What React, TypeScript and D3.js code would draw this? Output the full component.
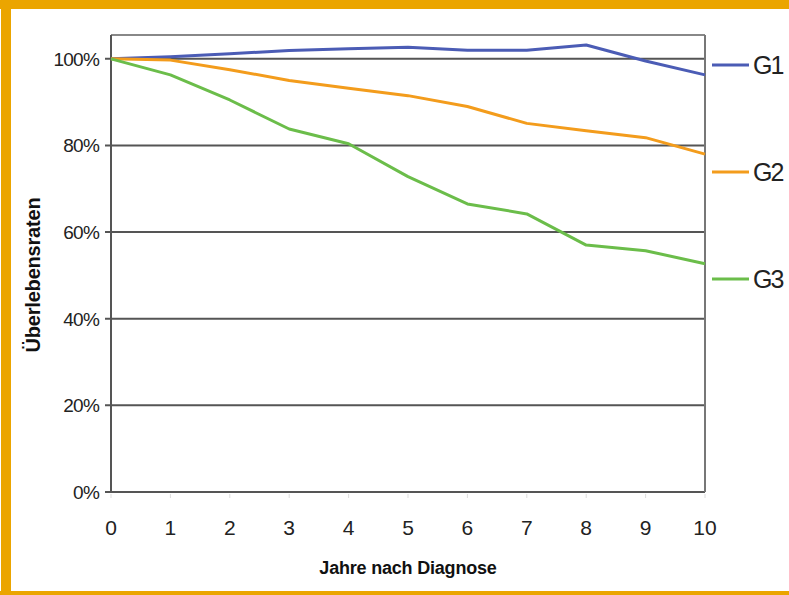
import React from "react";
import * as d3 from "d3";

const years = [0, 1, 2, 3, 4, 5, 6, 7, 8, 9, 10];
const g1 = [100, 100.5, 101.2, 101.9, 102.3, 102.7, 102, 102, 103.2, 99.5, 96.3];
const g2 = [100, 99.7, 97.5, 95, 93.2, 91.5, 89, 85.1, 83.4, 81.8, 78];
const g3 = [100, 96.3, 90.5, 83.8, 80.4, 72.8, 66.5, 64.2, 57, 55.7, 52.7];
const yTicks = [0, 20, 40, 60, 80, 100];
const seriesNames = ["G1", "G2", "G3"];
const seriesColors = ["#4b5cb5", "#f39c1c", "#6bbd4a"];
const xTitle = "Jahre nach Diagnose";
const yTitle = "Überlebensraten";

export default function App() {
  const W = 789, H = 595;
  const left = 111, right = 705, top = 35, bottom = 492;
  const x = d3.scaleLinear().domain([0, 10]).range([left, right]);
  const y = d3.scaleLinear().domain([0, 105.5]).range([bottom, top]);
  const line = d3.line<number>().x((_, i) => x(years[i])).y((v) => y(v));
  const data = [g1, g2, g3];
  const legendY = [65, 172, 279];
  const font = "Liberation Sans, Arial, sans-serif";
  return (
    <svg width={W} height={H} style={{ position: "absolute", left: 0, top: 0, background: "#fff" }}>
      {/* orange frame */}
      <rect x={0} y={0} width={W} height={9} fill="#eba500" />
      <rect x={1} y={0} width={10} height={H} fill="#eba500" />
      <rect x={0} y={591} width={W} height={4} fill="#eba500" />
      {/* gridlines */}
      {yTicks.map((t) => (
        <line key={t} x1={left - 6} x2={right} y1={y(t)} y2={y(t)} stroke="#555" strokeWidth={2} />
      ))}
      {/* plot frame */}
      <line x1={left} x2={right} y1={top} y2={top} stroke="#888" strokeWidth={2} />
      <line x1={right} x2={right} y1={top} y2={bottom} stroke="#777" strokeWidth={2} />
      <line x1={left} x2={left} y1={top} y2={bottom} stroke="#555" strokeWidth={2} />
      {/* x ticks */}
      {years.map((t) => (
        <line key={t} x1={x(t)} x2={x(t)} y1={bottom + 2} y2={bottom + 6} stroke="#ddd" strokeWidth={1} />
      ))}
      {/* y labels */}
      {yTicks.map((t) => (
        <text key={t} x={99} y={y(t) + 7} textAnchor="end" fontFamily={font} fontSize={19} letterSpacing={-0.8} fill="#222">
          {t}%
        </text>
      ))}
      {/* x labels */}
      {years.map((t) => (
        <text key={t} x={x(t)} y={535} textAnchor="middle" fontFamily={font} fontSize={21} fill="#222">
          {t}
        </text>
      ))}
      {/* series */}
      {data.map((d, i) => (
        <path key={i} d={line(d) || ""} fill="none" stroke={seriesColors[i]} strokeWidth={3} strokeLinejoin="round" />
      ))}
      {/* legend */}
      {seriesNames.map((n, i) => (
        <g key={n}>
          <line x1={712} x2={749} y1={legendY[i]} y2={legendY[i]} stroke={seriesColors[i]} strokeWidth={3} />
          <text x={753} y={legendY[i] + 9} fontFamily={font} fontSize={25} letterSpacing={-2} fill="#222">
            {n}
          </text>
        </g>
      ))}
      {/* titles */}
      <text x={408} y={574} textAnchor="middle" fontFamily={font} fontWeight="bold" fontSize={18} letterSpacing={-0.2} fill="#111">
        {xTitle}
      </text>
      <text transform="translate(40,275) rotate(-90)" textAnchor="middle" fontFamily={font} fontWeight="bold" fontSize={20} letterSpacing={-0.2} fill="#111">
        {yTitle}
      </text>
    </svg>
  );
}
